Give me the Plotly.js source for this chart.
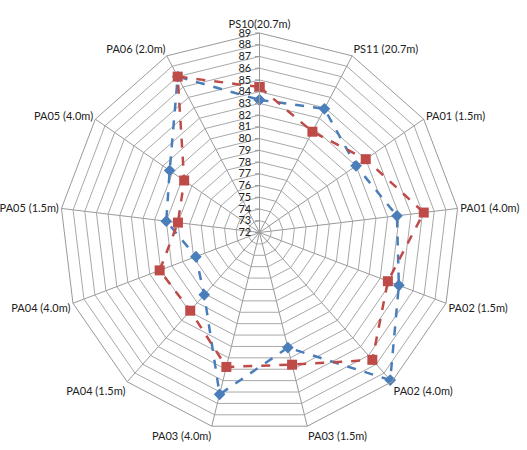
<!DOCTYPE html>
<html><head><meta charset="utf-8">
<script src="https://cdn.plot.ly/plotly-3.0.1.min.js"></script>
<style>html,body{margin:0;padding:0;background:#fff}</style>
</head><body>
<div id="chart" style="width:527px;height:450px"></div>
<script>
const categories = ["PS10(20.7m)","PS11 (20.7m)","PA01 (1.5m)","PA01 (4.0m)","PA02 (1.5m)","PA02 (4.0m)","PA03 (1.5m)","PA03 (4.0m)","PA04 (1.5m)","PA04 (4.0m)","PA05 (1.5m)","PA05 (4.0m)","PA06 (2.0m)"];
const seriesBlue = [83.3, 83.9, 82.0, 83.8, 84.7, 88.8, 82.1, 86.2, 79.1, 77.8, 80.0, 81.3, 87.0];
const seriesRed  = [84.4, 81.7, 83.0, 86.1, 83.7, 86.5, 83.6, 83.8, 80.9, 81.1, 79.0, 79.8, 87.0];
const radialTicks = [72,73,74,75,76,77,78,79,80,81,82,83,84,85,86,87,88,89];

const closeLoop = a => a.concat([a[0]]);
const traces = [
  {type:'scatterpolar', r: closeLoop(seriesBlue), theta: closeLoop(categories), mode:'lines+markers',
   line:{color:'#4A7EBB', width:2.5, dash:'dash'}, marker:{symbol:'diamond', size:9, color:'#4A7EBB'}, name:'Series 1'},
  {type:'scatterpolar', r: closeLoop(seriesRed), theta: closeLoop(categories), mode:'lines+markers',
   line:{color:'#BE4B48', width:2.5, dash:'dash'}, marker:{symbol:'square', size:10, color:'#BE4B48'}, name:'Series 2'}
];
const layout = {
  width:527, height:450,
  margin:{l:59.5, r:67.5, t:32.5, b:17.5},
  showlegend:false,
  paper_bgcolor:'#fff',
  font:{family:'Lato, "Open Sans", sans-serif', size:11, color:'#222'},
  polar:{
    bgcolor:'#fff',
    gridshape:'linear',
    angularaxis:{type:'category', categoryarray:categories, rotation:90, direction:'clockwise',
      showline:true, linecolor:'#999999', linewidth:1, gridcolor:'#999999', gridwidth:1,
      ticks:'', tickfont:{size:11, color:'#222'}},
    radialaxis:{range:[72,89], tickvals:radialTicks, ticktext:radialTicks.map(String), angle:90, side:'counterclockwise',
      showline:true, linecolor:'#999999', linewidth:1, gridcolor:'#a8a8a8', gridwidth:1,
      ticks:'outside', ticklen:4, tickcolor:'#999999', tickangle:90, tickfont:{size:11, color:'#222'}}
  }
};
Plotly.newPlot('chart', traces, layout, {displayModeBar:false, staticPlot:true});
</script>
</body></html>
